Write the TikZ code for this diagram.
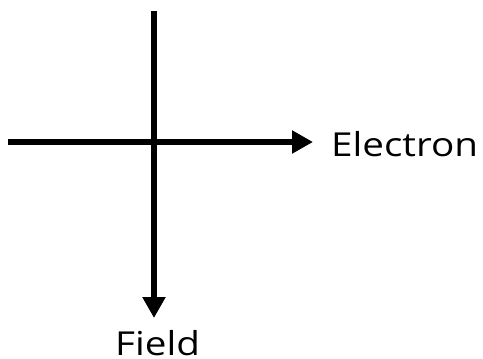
\documentclass[tikz,border=0pt]{standalone}
\usepackage{fontspec}
\setmainfont{Open Sans}[FakeStretch=1.17]
\usetikzlibrary{arrows.meta}
\begin{document}
\begin{tikzpicture}[x=1pt,y=-1pt,
  axis/.style={line width=6.5pt,-{Triangle[length=21pt,width=22pt]}},
  lbl/.style={font=\fontsize{33}{36}\selectfont,inner sep=0pt,text depth=0pt}]
\useasboundingbox (0,0) rectangle (483,359);
\coordinate (top) at (154,11);
\coordinate (bot) at (154,318);
\coordinate (left) at (8,142);
\coordinate (right) at (313,142);
\draw[axis] (left) -- (right);
\draw[axis] (top) -- (bot);
\node[lbl,anchor=base west] (e) at (331,156) {Electron};
\node[lbl,anchor=base west] (f) at (115,355) {Field};
\end{tikzpicture}
\end{document}
